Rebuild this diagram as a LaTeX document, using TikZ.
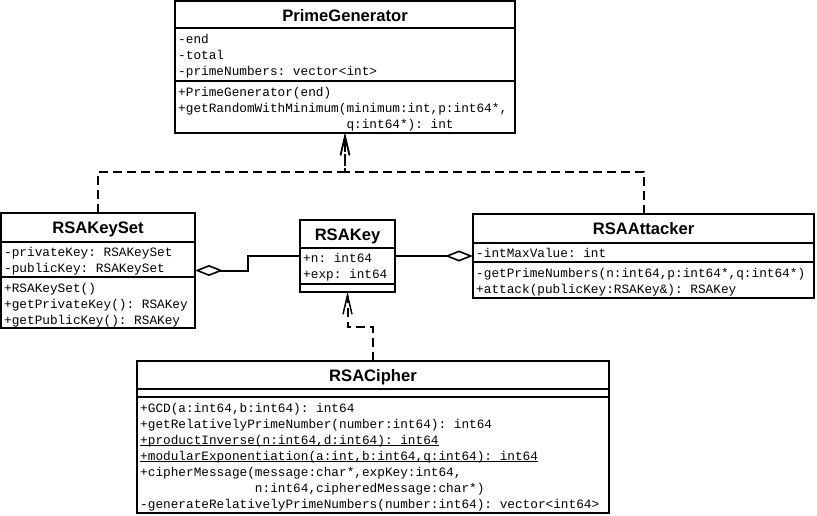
\documentclass[tikz,border=0pt]{standalone}
\usepackage{fontspec}
\setmainfont{Liberation Sans}
\newfontfamily\umlmono{Liberation Mono}
\usetikzlibrary{arrows.meta,calc}
\newcommand\ulmono[1]{\setbox0\hbox{#1}\rlap{\rule[-1.6pt]{\wd0}{0.9pt}}\box0}
\tikzset{
 classbox/.style={draw, line width=2pt, rectangle, inner sep=0pt, outer sep=0pt, anchor=north west},
 sepline/.style={line width=2pt},
 ctitle/.style={font=\fontsize{16.6}{18}\selectfont\bfseries, inner sep=0pt, anchor=base},
 mline/.style={font=\umlmono\fontsize{12.75}{16}\selectfont\frenchspacing, inner sep=0pt, anchor=base west},
 dep/.style={line width=2pt, dash pattern=on 9pt off 5pt, -{Straight Barb[length=19pt,width=9pt,line width=1.5pt]}},
 aggr/.style={line width=2pt, -{Diamond[open,length=28pt,width=11pt,line width=1.6pt]}},
}
\begin{document}
\begin{tikzpicture}[x=1pt,y=-1pt]
\useasboundingbox (0,0) rectangle (817,515);
% PrimeGenerator
\node[classbox, minimum width=340pt, minimum height=132pt] (pg) at (175,1) {};
\draw[sepline] (175,28) -- (515,28);
\draw[sepline] (175,81) -- (515,81);
\node[ctitle] (pgt) at (345,21.5) {PrimeGenerator};
\node[mline] (pga1) at (178,43.5) {-end};
\node[mline] (pga2) at (178,59.5) {-total};
\node[mline] (pga3) at (178,75.5) {-primeNumbers: vector<int>};
\node[mline] (pgm1) at (178,96) {+PrimeGenerator(end)};
\node[mline] (pgm2) at (178,112) {+getRandomWithMinimum(minimum:int,p:int64*,};
\node[mline] (pgm3) at (178,128) {\phantom{+getRandomWithMinimum(}q:int64*): int};
% RSAKeySet
\node[classbox, minimum width=194pt, minimum height=115pt] (ks) at (1,213) {};
\draw[sepline] (1,242) -- (195,242);
\draw[sepline] (1,277) -- (195,277);
\node[ctitle] (kst) at (98,233.5) {RSAKeySet};
\node[mline] (ksa1) at (4,256) {-privateKey: RSAKeySet};
\node[mline] (ksa2) at (4,272) {-publicKey: RSAKeySet};
\node[mline] (ksm1) at (4,292) {+RSAKeySet()};
\node[mline] (ksm2) at (4,308) {+getPrivateKey(): RSAKey};
\node[mline] (ksm3) at (4,324) {+getPublicKey(): RSAKey};
% RSAKey
\node[classbox, minimum width=95pt, minimum height=72pt] (rk) at (300,220) {};
\draw[sepline] (300,248) -- (395,248);
\draw[sepline] (300,284) -- (395,284);
\node[ctitle] (rkt) at (347.5,240.5) {RSAKey};
\node[mline] (rka1) at (303,262.5) {+n: int64};
\node[mline] (rka2) at (303,278) {+exp: int64};
% RSAAttacker
\node[classbox, minimum width=341pt, minimum height=84pt] (ra) at (473,214) {};
\draw[sepline] (473,243) -- (814,243);
\draw[sepline] (473,262) -- (814,262);
\node[ctitle] (rat) at (643.5,234.5) {RSAAttacker};
\node[mline] (raa1) at (476,257) {-intMaxValue: int};
\node[mline] (ram1) at (476,277) {-getPrimeNumbers(n:int64,p:int64*,q:int64*)};
\node[mline] (ram2) at (476,293) {+attack(publicKey:RSAKey\&): RSAKey};
% RSACipher
\node[classbox, minimum width=472pt, minimum height=152pt] (rc) at (137,361) {};
\draw[sepline] (137,389) -- (609,389);
\draw[sepline] (137,397) -- (609,397);
\node[ctitle] (rct) at (373,381.5) {RSACipher};
\node[mline] (rcm1) at (140,412) {+GCD(a:int64,b:int64): int64};
\node[mline] (rcm2) at (140,428) {+getRelativelyPrimeNumber(number:int64): int64};
\node[mline] (rcm3) at (140,444) {\ulmono{+productInverse(n:int64,d:int64): int64}};
\node[mline] (rcm4) at (140,460) {\ulmono{+modularExponentiation(a:int,b:int64,q:int64): int64}};
\node[mline] (rcm5) at (140,476) {+cipherMessage(message:char*,expKey:int64,};
\node[mline] (rcm6) at (140,492) {\phantom{+cipherMessage(}n:int64,cipheredMessage:char*)};
\node[mline] (rcm7) at (140,508) {-generateRelativelyPrimeNumbers(number:int64): vector<int64>};
% connectors
\coordinate (j1) at (345,172);
\coordinate (j2) at (347.5,327);
\coordinate (m3) at ($(rk.west)!0.5!(ks.east)$);
\draw[dep] (ks.north) |- (j1) -- (pg.south);
\draw[dep] (ra.north) |- (j1) -- (pg.south);
\draw[dep] (rc.north) |- (j2) -- (rk.south);
\draw[aggr] (rk.west) -| (m3) |- (ks.east);
\draw[aggr] (rk.east) -- (ra.west);
\end{tikzpicture}
\end{document}
